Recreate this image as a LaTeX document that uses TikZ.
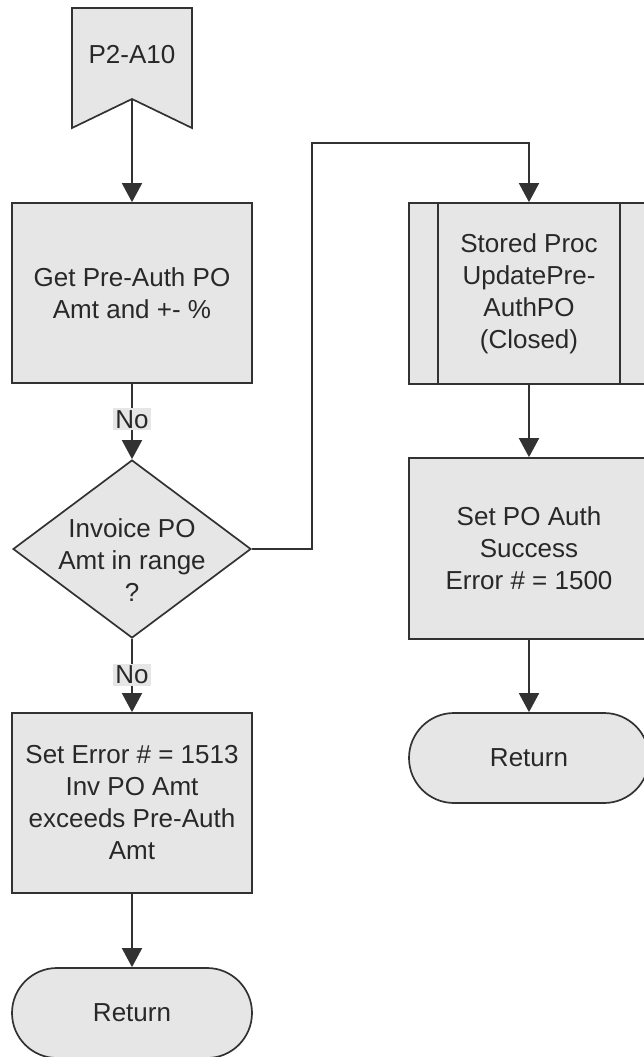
\documentclass[tikz,border=0pt]{standalone}
\usepackage{fontspec}
\setmainfont{Liberation Sans}
\usetikzlibrary{shapes.geometric,arrows.meta}
\definecolor{boxfill}{RGB}{230,230,230}
\definecolor{edgecol}{RGB}{50,50,50}
\definecolor{txtcol}{RGB}{40,40,40}
\begin{document}
\begin{tikzpicture}[x=1pt,y=-1pt,
  every node/.style={font=\fontsize{26}{32}\selectfont, text=txtcol},
  proc/.style={draw=edgecol, fill=boxfill, line width=1.7pt, minimum width=240pt,
    inner sep=0pt, align=center},
  term/.style={proc, rounded corners=45pt, minimum height=90pt},
  decision/.style={diamond, draw=edgecol, fill=boxfill, line width=1.7pt,
    minimum width=238pt, minimum height=178pt, inner sep=0pt},
  flow/.style={draw=edgecol, line width=1.7pt, -{Triangle[width=20pt,length=19pt]}},
  nolabel/.style={fill=boxfill, inner sep=2pt},
  ]
\useasboundingbox (0,0) rectangle (643,1057);

% off-page entry flag
\draw[draw=edgecol, fill=boxfill, line width=1.7pt]
  (72,8) -- (192,8) -- (192,128) -- (132,99) -- (72,128) -- cycle;
\coordinate (notch) at (132,99);
\node (start) at (132,55) {P2-A10};

% left column
\node[proc, minimum height=180pt] (getamt) at (132,293) {Get Pre-Auth PO\\Amt and +- \%};
\node[decision] (dec) at (132,549) {};
\node[align=center] (dectext) at (132,560) {Invoice PO\\Amt in range\\?};
\node[proc, minimum height=180pt] (err) at (132,803) {Set Error \# = 1513\\Inv PO Amt\\exceeds Pre-Auth\\Amt};
\node[term] (retl) at (132,1013) {Return};

% right column
\node[proc, minimum height=181pt] (sp) at (529,293.5) {Stored Proc\\UpdatePre-\\AuthPO\\(Closed)};
\draw[edgecol, line width=1.7pt] ([xshift=30pt]sp.north west) -- ([xshift=30pt]sp.south west);
\draw[edgecol, line width=1.7pt] ([xshift=-30pt]sp.north east) -- ([xshift=-30pt]sp.south east);
\node[proc, minimum height=181pt] (ok) at (529,548.5) {Set PO Auth\\Success\\Error \# = 1500};
\node[term] (retr) at (529,758) {Return};

% connectors
\draw[flow] (notch) -- (getamt);
\draw[flow] (getamt) -- node[nolabel, pos=0.47] {No} (dec);
\draw[flow] (dec) -- node[nolabel, pos=0.49] {No} (err);
\draw[flow] (err) -- (retl);
\coordinate (bend) at (312,143);
\draw[flow] (dec.east) -| (bend) -| (sp.north);
\draw[flow] (sp) -- (ok);
\draw[flow] (ok) -- (retr);
\end{tikzpicture}
\end{document}
